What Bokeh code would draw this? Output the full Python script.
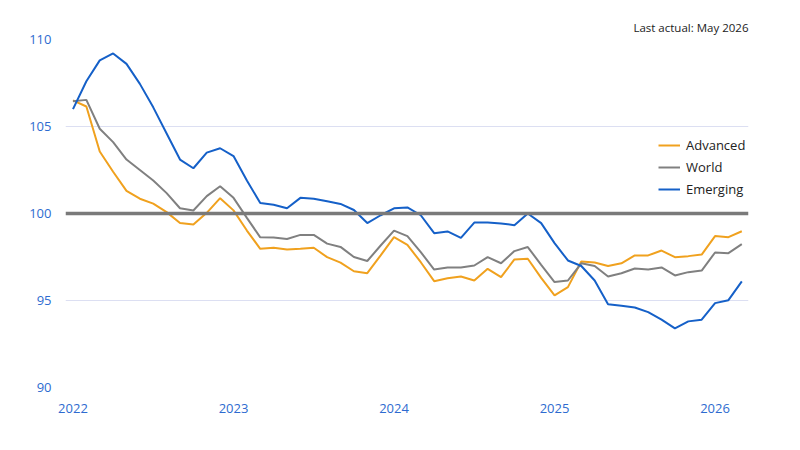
import numpy as np
from bokeh.plotting import figure
from bokeh.models import Span, Legend, LegendItem, FixedTicker, Range1d
from bokeh.embed import file_html
from bokeh.resources import INLINE

# Monthly index from Jan 2022 to Mar 2026
months = list(range(51))
tick_positions = [0, 12, 24, 36, 48]
tick_labels = ["2022", "2023", "2024", "2025", "2026"]
y_ticks = [90, 95, 100, 105, 110]

advanced = [106.5, 106.15, 103.56, 102.4, 101.3, 100.85, 100.57, 100.08, 99.45, 99.37,
            100.04, 100.88, 100.18, 99.02, 97.97, 98.03, 97.93, 97.97, 98.03, 97.49,
            97.18, 96.68, 96.57, 97.59, 98.64, 98.2, 97.2, 96.11, 96.28, 96.38,
            96.15, 96.82, 96.34, 97.36, 97.4, 96.3, 95.29, 95.77, 97.24, 97.18,
            96.98, 97.14, 97.59, 97.59, 97.87, 97.49, 97.55, 97.64, 98.7, 98.64,
            98.98]

world = [106.45, 106.53, 104.87, 104.1, 103.1, 102.5, 101.9, 101.17, 100.3, 100.17,
         101.0, 101.57, 100.9, 99.75, 98.63, 98.62, 98.53, 98.77, 98.77, 98.27,
         98.08, 97.5, 97.27, 98.16, 99.02, 98.7, 97.78, 96.78, 96.9, 96.9,
         97.01, 97.49, 97.14, 97.84, 98.07, 97.05, 96.06, 96.15, 97.14, 96.98,
         96.38, 96.57, 96.84, 96.78, 96.9, 96.44, 96.63, 96.72, 97.76, 97.72,
         98.24]

emerging = [106.0, 107.6, 108.8, 109.2, 108.6, 107.45, 106.1, 104.6, 103.1, 102.6,
            103.5, 103.75, 103.3, 101.9, 100.6, 100.5, 100.3, 100.9, 100.85, 100.7,
            100.55, 100.2, 99.45, 99.9, 100.3, 100.35, 99.9, 98.87, 98.97, 98.6,
            99.48, 99.48, 99.43, 99.33, 100.0, 99.45, 98.3, 97.3, 96.98, 96.15,
            94.79, 94.7, 94.6, 94.33, 93.9, 93.4, 93.8, 93.9, 94.85, 95.02,
            96.1]

FONT = "Open Sans"
BLUE_TXT = "#2e6bd0"
C_ADV = "#f0a11e"
C_WORLD = "#808080"
C_EM = "#1560c8"

p = figure(width=800, height=450, output_backend="svg", toolbar_location=None,
           x_range=Range1d(-0.56, 50.5), y_range=Range1d(90, 110),
           min_border_left=65, min_border_right=52, min_border_top=39, min_border_bottom=63)
p.outline_line_color = None
p.background_fill_color = "white"
p.border_fill_color = "white"

p.title.text = "Last actual: May 2026"
p.title.align = "right"
p.title.text_font = FONT
p.title.text_font_size = "11.5px"
p.title.text_font_style = "normal"
p.title.text_color = "#222222"

p.xgrid.grid_line_color = None
p.ygrid.grid_line_color = "#dcdff2"
p.ygrid.grid_line_width = 1
p.ygrid.ticker = FixedTicker(ticks=[90, 95, 105, 110])

p.xaxis.ticker = FixedTicker(ticks=tick_positions)
p.xaxis.major_label_overrides = {t: l for t, l in zip(tick_positions, tick_labels)}
p.yaxis.ticker = FixedTicker(ticks=y_ticks)
for ax in (p.xaxis, p.yaxis):
    ax.axis_line_color = None
    ax.major_tick_line_color = None
    ax.minor_tick_line_color = None
    ax.major_label_text_font = FONT
    ax.major_label_text_font_size = "13px"
    ax.major_label_text_color = BLUE_TXT
p.xaxis.major_label_standoff = 10
p.yaxis.major_label_standoff = 8

p.add_layout(Span(location=100, dimension="width", line_color="#7a7a7a", line_width=3.5))

r_adv = p.line(months, advanced, line_color=C_ADV, line_width=2)
r_world = p.line(months, world, line_color=C_WORLD, line_width=2)
r_em = p.line(months, emerging, line_color=C_EM, line_width=2)

legend = Legend(items=[LegendItem(label="Advanced", renderers=[r_adv]),
                       LegendItem(label="World", renderers=[r_world]),
                       LegendItem(label="Emerging", renderers=[r_em])],
                location=(593, 187), orientation="vertical")
legend.border_line_color = None
legend.background_fill_alpha = 0
legend.padding = 0
legend.spacing = 0
legend.margin = 0
legend.glyph_width = 22
legend.glyph_height = 22
legend.label_height = 22
legend.label_standoff = 6
legend.label_text_font = FONT
legend.label_text_font_size = "13px"
legend.label_text_color = "#222222"
p.add_layout(legend)

open("out.html", "w").write(file_html(p, INLINE))
